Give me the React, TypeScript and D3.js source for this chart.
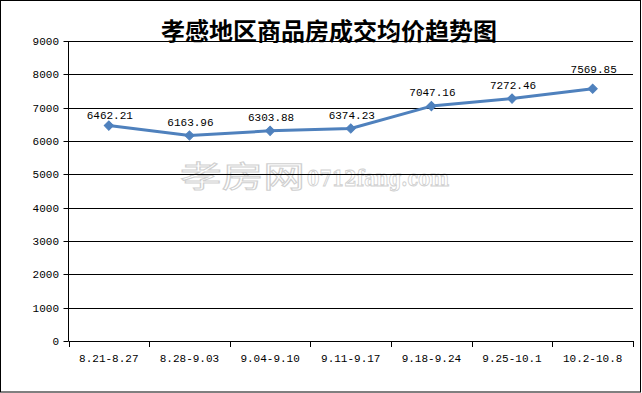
import React from "react";
import * as d3 from "d3";

const categories = ["8.21-8.27", "8.28-9.03", "9.04-9.10", "9.11-9.17", "9.18-9.24", "9.25-10.1", "10.2-10.8"];
const prices = [6462.21, 6163.96, 6303.88, 6374.23, 7047.16, 7272.46, 7569.85];
const yTicks = [0, 1000, 2000, 3000, 4000, 5000, 6000, 7000, 8000, 9000];
const title = "孝感地区商品房成交均价趋势图";

const W = 642;
const H = 393;
const left = 68.5;
const right = 633;
const top = 41;
const bottom = 341;
const mono = "'Liberation Mono', 'DejaVu Sans Mono', monospace";

export default function App() {
  const x = d3.scaleBand<string>().domain(categories).range([left, right]);
  const y = d3.scaleLinear().domain([0, 9000]).range([bottom, top]);
  const cx = (c: string) => (x(c) as number) + x.bandwidth() / 2;
  const line = d3
    .line<number>()
    .x((_, i) => cx(categories[i]))
    .y((d) => y(d));
  const diamond = d3.symbol().type(d3.symbolSquare).size(42)() as string;
  const edges = [...categories.map((c) => x(c) as number), right];
  const gridYs = yTicks.filter((t) => t > 0).map((t) => Math.round(y(t)) + 0.5);

  // place label above point, nudging it off any gridline it would cross
  const labelY = (v: number) => {
    let b = y(v) - 10;
    for (const g of gridYs) {
      if (g >= b - 9 && g <= b + 1) {
        const up = b - (g - 1.5);
        const down = g + 10 - b;
        b = up <= down ? g - 1.5 : g + 10;
      }
    }
    return b;
  };

  return (
    <svg
      width={W}
      height={H}
      style={{ position: "absolute", left: 0, top: 0, background: "#fff" }}
    >
      <rect x={0.5} y={0.5} width={640} height={391.5} fill="#fff" stroke="#000" strokeWidth={1} />
      <text
        x={329}
        y={29}
        textAnchor="middle"
        dominantBaseline="central"
        fontFamily="'Noto Sans CJK SC', sans-serif"
        fontWeight={700}
        fontSize={24}
        fill="#000"
      >
        {title}
      </text>

      {/* watermark */}
      <g fill="#fff" stroke="#d0d0d0" strokeWidth={1}>
        <text
          x={180}
          y={187}
          fontFamily="'Noto Sans CJK SC', sans-serif"
          fontSize={30}
          fontWeight={400}
          textLength={125}
          lengthAdjust="spacingAndGlyphs"
        >
          孝房网
        </text>
        <text
          x={307}
          y={186}
          fontFamily="'DejaVu Serif', serif"
          fontSize={22}
          fontWeight={700}
          textLength={142}
          lengthAdjust="spacingAndGlyphs"
        >
          0712fang.com
        </text>
      </g>

      {/* gridlines and y ticks */}
      {yTicks.map((t) => (
        <g key={t}>
          {t > 0 && (
            <line x1={left} x2={right} y1={Math.round(y(t)) + 0.5} y2={Math.round(y(t)) + 0.5} stroke="#000" strokeWidth={1} />
          )}
          <line x1={left - 5} x2={left} y1={Math.round(y(t)) + 0.5} y2={Math.round(y(t)) + 0.5} stroke="#000" strokeWidth={1} />
          <text
            x={59}
            y={Math.round(y(t)) + 0.5}
            textAnchor="end"
            dominantBaseline="central"
            fontFamily={mono}
            fontSize={11}
            fill="#000"
          >
            {t}
          </text>
        </g>
      ))}

      {/* axes */}
      <line x1={left} x2={left} y1={top} y2={bottom} stroke="#000" strokeWidth={1} />
      <line x1={left} x2={right} y1={bottom + 0.5} y2={bottom + 0.5} stroke="#000" strokeWidth={1} />
      {edges.map((e, i) => (
        <line key={i} x1={Math.round(e) + 0.5} x2={Math.round(e) + 0.5} y1={bottom} y2={bottom + 6} stroke="#000" strokeWidth={1} />
      ))}
      {categories.map((c) => (
        <text key={c} x={cx(c)} y={362} textAnchor="middle" fontFamily={mono} fontSize={11} fill="#000">
          {c}
        </text>
      ))}

      {/* series */}
      <path d={line(prices) as string} fill="none" stroke="#4F81BD" strokeWidth={3} strokeLinejoin="round" />
      {prices.map((v, i) => (
        <path
          key={i}
          d={diamond}
          transform={`translate(${cx(categories[i])},${y(v)}) rotate(45)`}
          fill="#4F81BD"
          stroke="#4F81BD"
          strokeWidth={1}
        />
      ))}
      {prices.map((v, i) => (
        <text
          key={"l" + i}
          x={cx(categories[i]) + 1}
          y={labelY(v)}
          textAnchor="middle"
          fontFamily={mono}
          fontSize={11}
          fill="#000"
        >
          {v.toFixed(2)}
        </text>
      ))}
    </svg>
  );
}
